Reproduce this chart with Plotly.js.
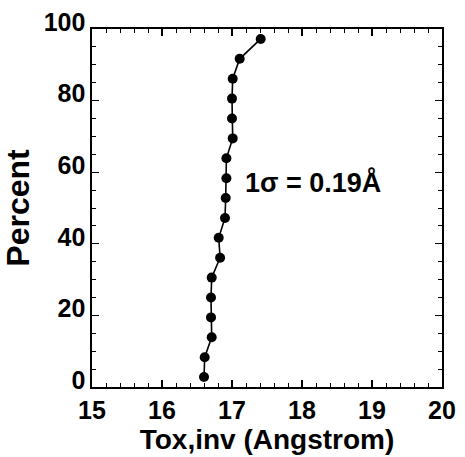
<!DOCTYPE html>
<html>
<head>
<meta charset="utf-8">
<script src="https://cdn.plot.ly/plotly-3.0.1.min.js"></script>
<style>html,body{margin:0;padding:0;background:#fff;}#chart{width:465px;height:457px;}</style>
</head>
<body>
<div id="chart"></div>
<script>
const toxValues = [16.60, 16.61, 16.71, 16.70, 16.70, 16.71, 16.83, 16.81, 16.90, 16.91, 16.92, 16.92, 17.01, 17.00, 17.00, 17.01, 17.11, 17.41];
const percentValues = [2.78, 8.33, 13.89, 19.44, 25.0, 30.56, 36.11, 41.67, 47.22, 52.78, 58.33, 63.89, 69.44, 75.0, 80.56, 86.11, 91.67, 97.22];
const xTickValues = [15, 16, 17, 18, 19, 20];
const yTickValues = [0, 20, 40, 60, 80, 100];
const annotationText = "1σ = 0.19Å";
const annotationX = 17.155;
const annotationY = 57.2;

const font = {family: "Liberation Sans, Arial, sans-serif", color: "#000"};

const trace = {
  x: toxValues,
  y: percentValues,
  mode: "lines+markers",
  type: "scatter",
  line: {color: "#000", width: 1.6},
  marker: {color: "#000", size: 10, symbol: "circle"},
  hoverinfo: "none"
};

const axisCommon = {
  showgrid: false,
  zeroline: false,
  showline: true,
  linecolor: "#000",
  linewidth: 1.6,
  mirror: "allticks",
  ticks: "inside",
  ticklen: 7,
  tickwidth: 1.2,
  tickcolor: "#000"
};

const layout = {
  width: 465,
  height: 457,
  margin: {l: 92, r: 23, t: 29, b: 70},
  paper_bgcolor: "#fff",
  plot_bgcolor: "#fff",
  showlegend: false,
  xaxis: Object.assign({}, axisCommon, {
    range: [15, 20],
    tickvals: xTickValues,
    ticktext: xTickValues.map(String),
    tickfont: Object.assign({size: 25, weight: "bold"}, font),
    ticklabelstandoff: 0,
    minor: {dtick: 0.2, ticks: "inside", ticklen: 4, tickwidth: 1, tickcolor: "#000"},
    title: {text: "Tox,inv (Angstrom)", font: Object.assign({size: 28, weight: "bold"}, font), standoff: 2}
  }),
  yaxis: Object.assign({}, axisCommon, {
    range: [0, 100],
    tickvals: yTickValues,
    ticktext: yTickValues.map(String),
    tickfont: Object.assign({size: 25, weight: "bold"}, font),
    ticklabelshift: -7,
    minor: {dtick: 5, ticks: "inside", ticklen: 4, tickwidth: 1, tickcolor: "#000"},
    title: {text: "Percent", font: Object.assign({size: 32, weight: "bold"}, font), standoff: 8}
  }),
  annotations: [{
    x: annotationX, y: annotationY, xref: "x", yref: "y",
    text: annotationText, showarrow: false, xanchor: "left", yanchor: "middle",
    font: Object.assign({size: 27, weight: "bold"}, font)
  }]
};

Plotly.newPlot("chart", [trace], layout, {staticPlot: true, displayModeBar: false});
</script>
</body>
</html>
